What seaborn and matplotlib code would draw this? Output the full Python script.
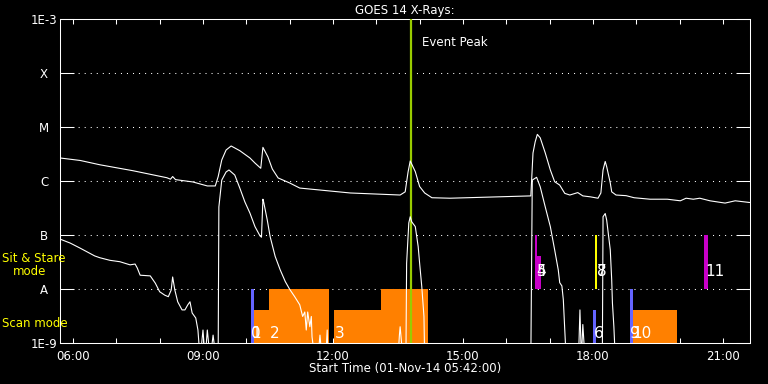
import numpy as np
import pandas as pd
import seaborn as sns
import matplotlib
matplotlib.use("Agg")
import matplotlib.pyplot as plt
import matplotlib.dates as mdates
from matplotlib.ticker import NullLocator

DAY = "2014-11-01 "

# GOES long channel (1-8 A), W/m^2
long_time = ["05:42", "06:10", "06:37", "07:23", "08:10", "08:15", "08:18", "08:22", "08:46", "09:06",
             "09:17", "09:21", "09:26", "09:32", "09:39", "09:51", "10:05", "10:12", "10:20", "10:23",
             "10:30", "10:36", "10:44", "11:00", "11:14", "12:24", "13:33", "13:40", "13:44", "13:47",
             "13:54", "14:00", "14:07", "14:17", "14:42", "15:51", "16:34", "16:37", "16:40", "16:43",
             "16:47", "16:54", "17:01", "17:07", "17:14", "17:21", "17:28", "17:39", "17:46", "17:56",
             "18:07", "18:11", "18:14", "18:17", "18:19", "18:24", "18:26", "18:32", "18:46", "18:57",
             "19:19", "19:43", "20:01", "20:09", "20:19", "20:28", "20:42", "21:03", "21:17", "21:37"]
long_flux = [2.67e-6, 2.4e-6, 2.0e-6, 1.55e-6, 1.15e-6, 1.08e-6, 1.21e-6, 1.06e-6, 9.6e-7, 8.1e-7,
             8.1e-7, 1.2e-6, 2.45e-6, 3.75e-6, 4.45e-6, 3.64e-6, 2.67e-6, 2.15e-6, 1.72e-6, 4.2e-6,
             2.78e-6, 1.67e-6, 1.14e-6, 9.2e-7, 7.4e-7, 6.0e-7, 5.5e-7, 6.3e-7, 1.47e-6, 2.35e-6,
             1.49e-6, 7.9e-7, 6.0e-7, 4.9e-7, 4.8e-7, 5.1e-7, 5.3e-7, 3.3e-6, 5.3e-6, 7.3e-6,
             6.3e-6, 3.3e-6, 1.6e-6, 9.7e-7, 8.4e-7, 5.9e-7, 5.5e-7, 6.1e-7, 5.3e-7, 5.1e-7,
             4.8e-7, 6.0e-7, 1.6e-6, 2.3e-6, 1.85e-6, 9.2e-7, 6.3e-7, 5.5e-7, 5.35e-7, 4.9e-7,
             4.6e-7, 4.6e-7, 4.3e-7, 4.8e-7, 4.6e-7, 4.8e-7, 4.3e-7, 3.9e-7, 4.3e-7, 4.0e-7]

# GOES short channel (0.5-4 A), W/m^2 (values under 1E-9 sit below the axis)
short_time = ["05:42", "05:56", "06:10", "06:30", "06:37", "06:51", "07:05", "07:19", "07:26", "07:29",
              "07:33", "07:47", "07:54", "08:00", "08:07", "08:12", "08:16", "08:18", "08:21", "08:25",
              "08:31", "08:35", "08:39", "08:42", "08:45", "08:50", "08:53", "08:56", "09:00", "09:03",
              "09:06", "09:10", "09:14", "09:18", "09:21", "09:22", "09:26", "09:32", "09:36", "09:44",
              "09:51", "09:58", "10:05", "10:12", "10:19", "10:21", "10:23", "10:24", "10:29", "10:33",
              "10:40", "10:47", "10:54", "11:00", "11:07", "11:14", "11:18", "11:21", "11:23", "11:25",
              "11:28", "11:30", "11:31", "11:35", "11:39", "11:42", "11:45", "11:50", "11:52", "11:53",
              "13:30", "13:32", "13:33", "13:37", "13:41", "13:42", "13:45", "13:47", "13:49", "13:54",
              "13:58", "14:00", "14:03", "14:06", "14:07", "16:34", "16:36", "16:42", "16:47", "16:54",
              "17:01", "17:07", "17:12", "17:14", "17:17", "17:19", "17:21", "17:23", "17:40", "17:42",
              "17:44", "17:46", "17:49", "18:13", "18:14", "18:17", "18:19", "18:24", "18:26", "18:27",
              "18:29", "18:31", "21:37"]
short_flux = [8.4e-8, 7.1e-8, 5.7e-8, 4.1e-8, 3.8e-8, 3.4e-8, 3.2e-8, 2.8e-8, 2.9e-8, 2.45e-8,
              1.8e-8, 1.75e-8, 1.28e-8, 8.9e-9, 7.7e-9, 7.2e-9, 9.6e-9, 1.67e-8, 9.6e-9, 5.8e-9,
              4.1e-9, 4.1e-9, 5.1e-9, 5.8e-9, 3.6e-9, 2.9e-9, 1.74e-9, 5e-10, 1.74e-9, 5e-10,
              1.74e-9, 5e-10, 1.4e-9, 5e-10, 5e-10, 3.3e-7, 1.04e-6, 1.47e-6, 1.6e-6, 1.29e-6,
              7.4e-7, 4.1e-7, 2.55e-7, 1.43e-7, 9.6e-8, 9.1e-8, 4.6e-7, 4.1e-7, 1.9e-7, 9.3e-8,
              4.0e-8, 2.25e-8, 1.37e-8, 9.9e-9, 7.2e-9, 5.1e-9, 3.1e-9, 3.75e-9, 1.74e-9, 3.75e-9,
              2.0e-9, 3.1e-9, 1.3e-9, 5e-10, 5e-10, 1.4e-9, 5e-10, 5e-10, 1.74e-9, 5e-10,
              5e-10, 1.4e-9, 2.0e-9, 5e-10, 5e-10, 3.0e-8, 1.67e-7, 2.18e-7, 1.76e-7, 1.43e-7,
              6.1e-8, 3.0e-8, 1.1e-8, 3.1e-9, 5e-10, 5e-10, 1.04e-6, 1.17e-6, 7.8e-7, 3.3e-7,
              1.43e-7, 5.3e-8, 2.25e-8, 1.31e-8, 1.14e-8, 6.3e-9, 1.74e-9, 5e-10, 5e-10, 4.1e-9,
              5e-10, 2.2e-9, 5e-10, 5e-10, 2.18e-7, 2.5e-7, 1.9e-7, 5.3e-8, 1.47e-8, 5.5e-9,
              2.0e-9, 5e-10, 5e-10]

# IRIS observation blocks (scan mode low, sit & stare above A)
block_start = ["10:06", "10:11", "10:31", "12:01", "13:06", "16:40", "16:40", "18:00", "18:03", "18:51", "18:55", "20:34"]
block_end = ["10:11", "10:31", "11:54", "13:06", "14:12", "16:43", "16:48", "18:04", "18:06", "18:55", "19:57", "20:39"]
block_low = [1e-9, 1e-9, 1e-9, 1e-9, 1e-9, 1e-8, 1e-8, 1e-9, 1e-8, 1e-9, 1e-9, 1e-8]
block_high = [1e-8, 4.1e-9, 1e-8, 4.1e-9, 1e-8, 1e-7, 4.1e-8, 4.1e-9, 1e-7, 1e-8, 4.1e-9, 1e-7]
block_kind = ["blue", "orange", "orange", "orange", "orange", "magenta", "magenta", "blue", "yellow", "blue", "orange", "magenta"]

# observation numbers
obs_label = ["0", "1", "2", "3", "4", "5", "6", "7", "8", "9", "10", "11"]
obs_time = ["10:07", "10:07", "10:32", "12:03", "16:41", "16:42", "18:01", "18:05", "18:06", "18:51", "18:55", "20:35"]
obs_mode = ["scan", "scan", "scan", "scan", "sit", "sit", "scan", "sit", "sit", "scan", "scan", "sit"]

class_ticks = [1e-9, 1e-8, 1e-7, 1e-6, 1e-5, 1e-4, 1e-3]
class_labels = ["1E-9", "A", "B", "C", "M", "X", "1E-3"]

peak_time = "13:48"

kind_colors = {"blue": "#6464ff", "orange": "#ff8000", "magenta": "#c800c8", "yellow": "#ffff00"}


def to_dt(hhmm):
    return pd.to_datetime([DAY + t for t in hhmm])


sns.set_theme(style="dark", rc={
    "figure.facecolor": "black", "axes.facecolor": "black", "axes.edgecolor": "white",
    "text.color": "white", "axes.labelcolor": "white", "xtick.color": "white", "ytick.color": "white",
    "axes.linewidth": 0.75, "axes.grid": False,
})
plt.rcParams["font.family"] = ["DejaVu Sans"]

fig = plt.figure(figsize=(7.68, 3.84), dpi=100)
ax = fig.add_axes([60 / 768, 41 / 384, 690 / 768, 324 / 384])
ax.set_yscale("log")

long_df = pd.DataFrame({"time": to_dt(long_time), "flux": long_flux})
short_df = pd.DataFrame({"time": to_dt(short_time), "flux": short_flux})

# observation blocks
starts = mdates.date2num(to_dt(block_start))
ends = mdates.date2num(to_dt(block_end))
ax.bar(starts, np.array(block_high) - np.array(block_low), width=ends - starts, bottom=block_low,
       align="edge", color=[kind_colors[k] for k in block_kind], linewidth=0, zorder=2)

# class grid lines
for v in class_ticks[1:-1]:
    ax.axhline(v, color="white", lw=0.75, ls=(0, (1, 4.8)), zorder=1)

ax.axvline(pd.Timestamp(DAY + peak_time), color="#99cc00", lw=1.6, zorder=3)

sns.lineplot(data=long_df, x="time", y="flux", color="white", lw=0.8, ax=ax, zorder=4)
sns.lineplot(data=short_df, x="time", y="flux", color="white", lw=0.8, ax=ax, zorder=4)

for lab, t, mode in zip(obs_label, to_dt(obs_time), obs_mode):
    ax.text(t, 1.5e-9 if mode == "scan" else 2.1e-8, lab, color="white", fontsize=11,
            va="center", ha="left", zorder=5)

ax.text(pd.Timestamp(DAY + "14:03"), 3.6e-4, "Event Peak", color="white", fontsize=8.5, va="center")

ytr = ax.get_yaxis_transform()
ax.text(-0.084, 3.75e-8, "Sit & Stare", transform=ytr, color="#ffff00", fontsize=8.5, va="center", ha="left")
ax.text(-0.0686, 2.15e-8, "mode", transform=ytr, color="#ffff00", fontsize=8.5, va="center", ha="left")
ax.text(-0.084, 2.25e-9, "Scan mode", transform=ytr, color="#ffff00", fontsize=8.5, va="center", ha="left")

ax.set_ylim(1e-9, 1e-3)
ax.set_xlim(pd.Timestamp(DAY + "05:42"), pd.Timestamp(DAY + "21:37:30"))

ax.set_yticks(class_ticks, class_labels)
ax.yaxis.set_minor_locator(NullLocator())
ax.tick_params(axis="y", which="major", direction="in", length=10, width=0.75,
               left=True, right=True, pad=11.5, labelsize=8.5)
plt.setp(ax.get_yticklabels(), ha="center")

ax.xaxis.set_major_locator(mdates.HourLocator(byhour=range(0, 24, 3)))
ax.xaxis.set_minor_locator(mdates.HourLocator())
ax.xaxis.set_major_formatter(mdates.DateFormatter("%H:%M"))
ax.tick_params(axis="x", which="both", direction="in", length=3.6, width=0.75,
               top=True, bottom=True, pad=5, labelsize=8.5)

for s in ax.spines.values():
    s.set_color("white")
    s.set_linewidth(0.75)

ax.set_title("GOES 14 X-Rays:", fontsize=8.5, color="white", pad=3.5)
ax.set_xlabel("Start Time (01-Nov-14 05:42:00)", fontsize=8.5, labelpad=-1)
ax.set_ylabel("")

fig.savefig("out.png", dpi=100, facecolor="black")
